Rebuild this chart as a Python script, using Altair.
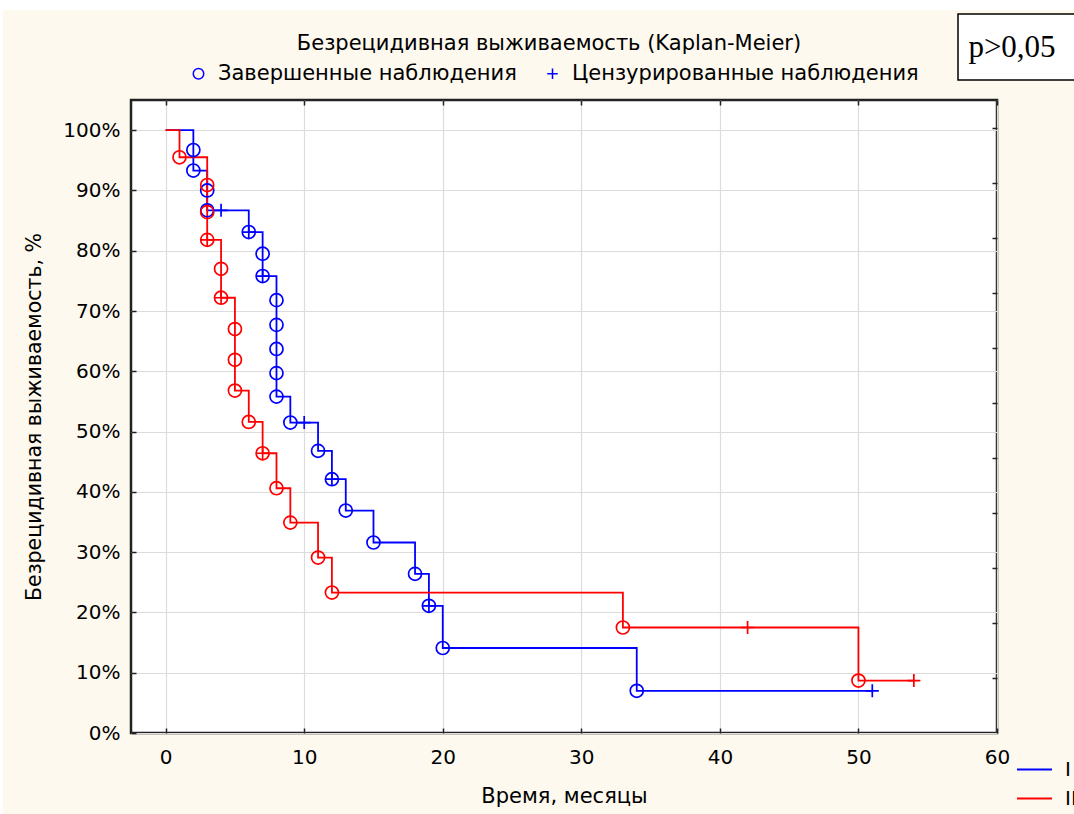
import altair as alt
import pandas as pd

# ---------------- data ----------------
# Group I (blue): step curve vertices (time in months, survival %)
t_I_line = [0, 2, 3, 6, 7, 8, 9, 11, 12, 13, 15, 18, 19, 20, 34, 51]
s_I_line = [100, 93.3, 86.7, 83.1, 75.8, 55.8, 51.5, 46.8, 42.1, 36.9, 31.6, 26.4, 21.1, 14.1, 7.0, 7.0]
# Group I completed observations (events)
t_I_ev = [2, 2, 3, 3, 6, 7, 7, 8, 8, 8, 8, 8, 9, 11, 12, 13, 15, 18, 19, 20, 34]
s_I_ev = [96.7, 93.3, 90.0, 86.7, 83.1, 79.5, 75.8, 71.8, 67.7, 63.7, 59.7, 55.8, 51.5, 46.8, 42.1, 36.9, 31.6, 26.4, 21.1, 14.1, 7.0]
# Group I censored observations
t_I_ce = [4, 6, 7, 10, 12, 19, 51]
s_I_ce = [86.7, 83.1, 75.8, 51.5, 42.1, 21.1, 7.0]

# Group II (red)
t_II_line = [0, 1, 3, 4, 5, 6, 7, 8, 9, 11, 12, 33, 50, 54]
s_II_line = [100, 95.5, 81.8, 72.2, 56.8, 51.6, 46.4, 40.6, 34.9, 29.1, 23.3, 17.5, 8.7, 8.7]
t_II_ev = [1, 3, 3, 3, 4, 4, 5, 5, 5, 6, 7, 8, 9, 11, 12, 33, 50]
s_II_ev = [95.5, 90.9, 86.4, 81.8, 77.0, 72.2, 67.0, 61.9, 56.8, 51.6, 46.4, 40.6, 34.9, 29.1, 23.3, 17.5, 8.7]
t_II_ce = [3, 4, 7, 42, 54]
s_II_ce = [81.8, 72.2, 46.4, 17.5, 8.7]

groups = ["I", "II"]
group_colors = ["#0000FF", "#FF0000"]
kinds = ["Завершенные наблюдения", "Цензурированные наблюдения"]

x_ticks = [0, 10, 20, 30, 40, 50, 60]
y_ticks = [0, 10, 20, 30, 40, 50, 60, 70, 80, 90, 100]
right_ticks = [9.2, 18.3, 27.4, 36.5, 45.6, 54.8, 63.9, 73.0, 82.1, 91.2, 100.3]

title_text = "Безрецидивная выживаемость (Kaplan-Meier)"
x_title = "Время, месяцы"
y_title = "Безрецидивная выживаемость, %"
p_label = "p>0,05"

# ---------------- tables ----------------
line_df = pd.DataFrame({
    "group": ["I"] * len(t_I_line) + ["II"] * len(t_II_line),
    "t": t_I_line + t_II_line,
    "s": s_I_line + s_II_line,
})
pts_df = pd.DataFrame({
    "group": ["I"] * (len(t_I_ev) + len(t_I_ce)) + ["II"] * (len(t_II_ev) + len(t_II_ce)),
    "kind": [kinds[0]] * len(t_I_ev) + [kinds[1]] * len(t_I_ce)
            + [kinds[0]] * len(t_II_ev) + [kinds[1]] * len(t_II_ce),
    "t": t_I_ev + t_I_ce + t_II_ev + t_II_ce,
    "s": s_I_ev + s_I_ce + s_II_ev + s_II_ce,
})
one = pd.DataFrame({"a": [0]})

W, H = 866, 633
FONT = "DejaVu Sans"
CROSS = "M-1,0H1M0,-1V1"

x_scale = alt.Scale(domain=[-2.5, 60], nice=False, zero=False)
y_scale = alt.Scale(domain=[0, 105], nice=False, zero=False)
color_scale = alt.Scale(domain=groups, range=group_colors)
shape_scale = alt.Scale(domain=kinds, range=["circle", CROSS])

color_legend = alt.Legend(
    title=None, orient="none", legendX=885, legendY=651, symbolType="stroke",
    symbolSize=1225, symbolStrokeWidth=1.8, labelFontSize=20, labelFont=FONT,
    labelColor="#000000", rowPadding=-8, labelOffset=12, padding=0,
)

x_bottom = alt.Axis(
    values=x_ticks, grid=True, gridColor="#DCDCDC", gridWidth=1.2, domain=False,
    offset=-5, tickSize=5, tickColor="#222222", tickWidth=1.5, labelPadding=14,
    labelFontSize=20, labelFont=FONT, labelColor="#000000", labelFlush=False,
    labelOverlap=False, format="d", title=x_title, titleFontSize=21, titleFont=FONT,
    titleFontWeight="normal", titleColor="#000000", titlePadding=18,
)
y_left = alt.Axis(
    values=y_ticks, grid=True, gridColor="#DCDCDC", gridWidth=1.2, domain=False,
    offset=-5, tickSize=5, tickColor="#222222", tickWidth=1.5, labelPadding=11,
    labelFontSize=20, labelFont=FONT, labelColor="#000000", labelFlush=False,
    labelOverlap=False, labelExpr="datum.value + '%'", title=y_title, titleFontSize=20.5,
    titleFont=FONT, titleFontWeight="normal", titleColor="#000000", titlePadding=18,
)
x_top = alt.Axis(
    orient="top", values=x_ticks, grid=False, domain=False, labels=False, title=None,
    offset=-5, tickSize=5, tickColor="#222222", tickWidth=1.5,
)
y_right = alt.Axis(
    orient="right", values=right_ticks, grid=False, domain=False, labels=False, title=None,
    offset=-5, tickSize=5, tickColor="#222222", tickWidth=1.5,
)

lines = alt.Chart(line_df).mark_line(interpolate="step-after", strokeWidth=1.8, clip=False).encode(
    x=alt.X("t:Q", scale=x_scale, axis=x_bottom),
    y=alt.Y("s:Q", scale=y_scale, axis=y_left),
    color=alt.Color("group:N", scale=color_scale, legend=color_legend),
    detail="group:N",
)

points = alt.Chart(pts_df).mark_point(filled=False, size=170, strokeWidth=1.7, opacity=1, clip=False).encode(
    x=alt.X("t:Q", scale=x_scale, axis=x_top),
    y=alt.Y("s:Q", scale=y_scale, axis=y_right),
    color=alt.Color("group:N", scale=color_scale, legend=color_legend),
    shape=alt.Shape("kind:N", scale=shape_scale, legend=alt.Legend(
        title=None, orient="none", direction="horizontal", legendX=57, legendY=-37,
        symbolSize=110, symbolStrokeColor="#0000FF", symbolStrokeWidth=1.5,
        labelFontSize=21, labelFont=FONT, labelColor="#000000", labelLimit=0,
        labelOffset=9, columnPadding=25, padding=0,
    )),
)

# white margin strips of the original picture (top and left edge)
strip_top = alt.Chart(one).mark_rect(color="white", clip=False).encode(
    x=alt.value(-131), x2=alt.value(W + 77), y=alt.value(-100), y2=alt.value(-90)
)
strip_left = alt.Chart(one).mark_rect(color="white", clip=False).encode(
    x=alt.value(-131), x2=alt.value(-128), y=alt.value(-100), y2=alt.value(H + 81)
)

pbox = alt.Chart(one).mark_rect(fill="white", stroke="#000000", strokeWidth=1.5, clip=False).encode(
    x=alt.value(827), x2=alt.value(960), y=alt.value(-86), y2=alt.value(-20)
)
ptext = alt.Chart(one).mark_text(
    font="Liberation Serif", fontSize=31, align="center", baseline="middle", color="#000000"
).encode(x=alt.value(881), y=alt.value(-52), text=alt.value(p_label))

chart = alt.layer(strip_top, strip_left, pbox, ptext, lines, points).resolve_axis(
    x="independent", y="independent"
).properties(
    width=W, height=H,
    autosize=alt.AutoSizeParams(type="none"),
    padding={"left": 131, "top": 100, "right": 77, "bottom": 81},
    title=alt.TitleParams(
        text=title_text, font=FONT, fontSize=21, fontWeight="normal", color="#000000",
        anchor="middle", dx=-15, dy=54, offset=0,
    ),
).configure(
    background="#FDF9EE",
).configure_view(
    fill="white", stroke="#222222", strokeWidth=2.5,
)

chart.save("out.html", embed_options={"renderer": "svg", "actions": False})
